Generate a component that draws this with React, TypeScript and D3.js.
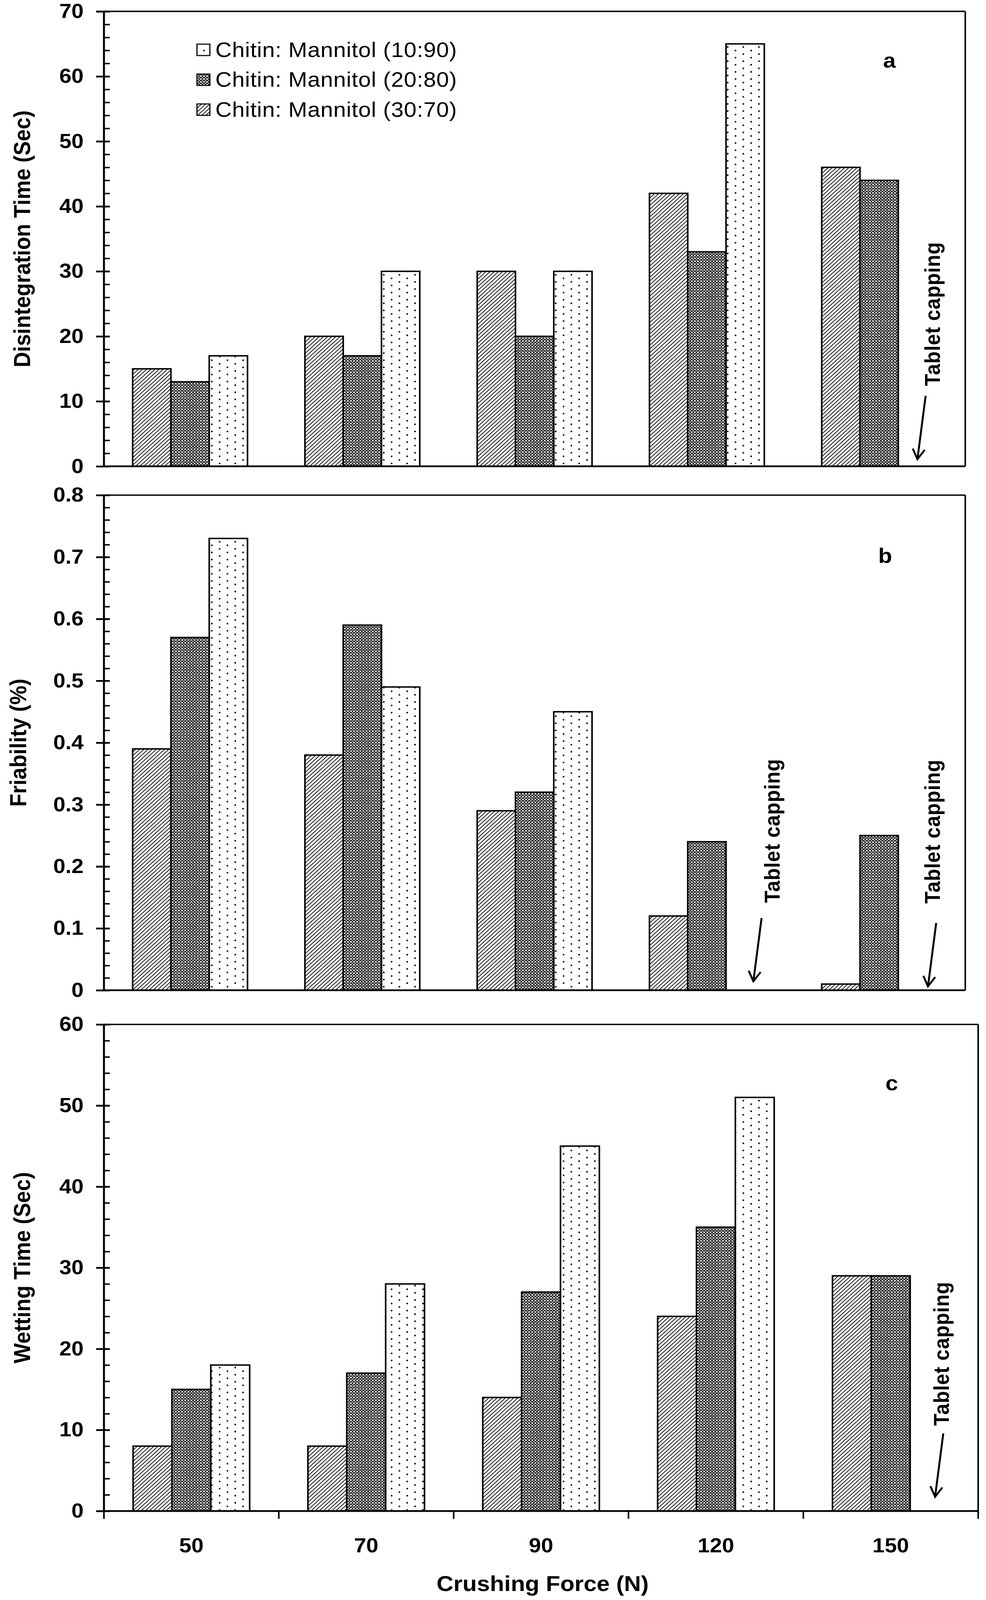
import { useRef, useEffect } from "react";
import * as d3 from "d3";

// Crushing force categories and the three chitin:mannitol ratios (bar order inside a group)
const CATEGORIES = ["50", "70", "90", "120", "150"];
const SERIES = ["30:70", "20:80", "10:90"];
const LEGEND_ORDER = ["10:90", "20:80", "30:70"];

// a — disintegration time (s); null = tablet capping
const DISINT_30_70 = [15, 20, 30, 42, 46];
const DISINT_20_80 = [13, 17, 20, 33, 44];
const DISINT_10_90 = [17, 30, 30, 65, null];

// b — friability (%)
const FRIAB_30_70 = [0.39, 0.38, 0.29, 0.12, 0.01];
const FRIAB_20_80 = [0.57, 0.59, 0.32, 0.24, 0.25];
const FRIAB_10_90 = [0.73, 0.49, 0.45, null, null];

// c — wetting time (s)
const WET_30_70 = [8, 8, 14, 24, 29];
const WET_20_80 = [15, 17, 27, 35, 29];
const WET_10_90 = [18, 28, 45, 51, null];

// tick values
const DISINT_TICKS = [0, 10, 20, 30, 40, 50, 60, 70];
const FRIAB_TICKS = [0, 0.1, 0.2, 0.3, 0.4, 0.5, 0.6, 0.7, 0.8];
const WET_TICKS = [0, 10, 20, 30, 40, 50, 60];

const W = 2523;
const H = 4495;
const FONT = "'Liberation Sans', Arial, sans-serif";
const FILL: Record<string, string> = {
  "30:70": "url(#pat-hatch)",
  "20:80": "url(#pat-check)",
  "10:90": "url(#pat-dots)",
};

type Capping = { cat: string; dx: number; dy: number; tx: number; ty: number };
type Panel = {
  tag: string;
  top: number;
  bottom: number;
  left: number;
  right: number;
  ticks: number[];
  minor: number;
  fmt: (d: number) => string;
  title: string;
  titleX: number;
  tagPos: [number, number];
  values: Record<string, (number | null)[]>;
  xAxis: boolean;
  legend: boolean;
  capping: Capping[];
};

const PANELS: Panel[] = [
  {
    tag: "a", top: 32, bottom: 1310, left: 266, right: 2470,
    ticks: DISINT_TICKS, minor: 2, fmt: (d) => String(d),
    title: "Disintegration Time (Sec)", titleX: 56, tagPos: [2276, 170],
    values: { "30:70": DISINT_30_70, "20:80": DISINT_20_80, "10:90": DISINT_10_90 },
    xAxis: false, legend: true,
    capping: [{ cat: "150", dx: 0, dy: -20, tx: 38, ty: -408 }],
  },
  {
    tag: "b", top: 1391, bottom: 2782, left: 266, right: 2470,
    ticks: FRIAB_TICKS, minor: 0.02, fmt: (d) => (d === 0 ? "0" : d.toFixed(1)),
    title: "Friability (%)", titleX: 46, tagPos: [2265, 1562],
    values: { "30:70": FRIAB_30_70, "20:80": FRIAB_20_80, "10:90": FRIAB_10_90 },
    xAxis: false, legend: false,
    capping: [
      { cat: "120", dx: 21, dy: -25, tx: 48, ty: -423 },
      { cat: "150", dx: 27, dy: -11, tx: 11, ty: -435 },
    ],
  },
  {
    tag: "c", top: 2878, bottom: 4245, left: 266, right: 2503,
    ticks: WET_TICKS, minor: 2, fmt: (d) => String(d),
    title: "Wetting Time (Sec)", titleX: 56, tagPos: [2282, 3043],
    values: { "30:70": WET_30_70, "20:80": WET_20_80, "10:90": WET_10_90 },
    xAxis: true, legend: false,
    capping: [{ cat: "150", dx: 14, dy: -40, tx: 16, ty: -402 }],
  },
];

export default function App() {
  const svgRef = useRef<SVGSVGElement>(null);

  useEffect(() => {
    document.body.style.margin = "0";
    document.body.style.overflow = "hidden";
    if (!svgRef.current) return;
    const svg = d3.select(svgRef.current);
    svg.selectAll("*").remove();

    // Patterns
    const defs = svg.append("defs");
    const dots = defs.append("pattern").attr("id", "pat-dots")
      .attr("patternUnits", "userSpaceOnUse").attr("width", 40).attr("height", 20);
    dots.append("rect").attr("width", 40).attr("height", 20).attr("fill", "#fff");
    dots.append("rect").attr("x", 0).attr("y", 0).attr("width", 4).attr("height", 4).attr("fill", "#000");
    dots.append("rect").attr("x", 20).attr("y", 10).attr("width", 4).attr("height", 4).attr("fill", "#000");

    const check = defs.append("pattern").attr("id", "pat-check")
      .attr("patternUnits", "userSpaceOnUse").attr("width", 8).attr("height", 8);
    check.append("rect").attr("width", 8).attr("height", 8).attr("fill", "#fff");
    check.append("rect").attr("x", 0).attr("y", 0).attr("width", 4).attr("height", 4).attr("fill", "#000");
    check.append("rect").attr("x", 4).attr("y", 4).attr("width", 4).attr("height", 4).attr("fill", "#000");
    check.append("rect").attr("x", 5).attr("y", 1).attr("width", 2).attr("height", 2).attr("fill", "#000");

    const hatch = defs.append("pattern").attr("id", "pat-hatch")
      .attr("patternUnits", "userSpaceOnUse").attr("width", 7.5).attr("height", 7.5)
      .attr("patternTransform", "rotate(45)");
    hatch.append("rect").attr("width", 7.5).attr("height", 7.5).attr("fill", "#fff");
    hatch.append("line").attr("x1", 1.5).attr("y1", 0).attr("x2", 1.5).attr("y2", 7.5)
      .attr("stroke", "#000").attr("stroke-width", 2);

    svg.append("rect").attr("width", W).attr("height", H).attr("fill", "#fff");

    PANELS.forEach((p) => {
      const g = svg.append("g");
      const yMax = p.ticks[p.ticks.length - 1];
      const y = d3.scaleLinear().domain([0, yMax]).range([p.bottom, p.top]);
      const cat = d3.scaleBand().domain(CATEGORIES).range([p.left, p.right]).padding(0);
      const inner = d3.scaleBand().domain(SERIES).range([0, cat.bandwidth()])
        .paddingInner(0).paddingOuter(0.75);

      // Bars
      CATEGORIES.forEach((c, i) => {
        SERIES.forEach((s) => {
          const v = p.values[s][i];
          if (v == null) return;
          g.append("rect")
            .attr("x", cat(c)! + inner(s)!).attr("y", y(v))
            .attr("width", inner.bandwidth()).attr("height", y(0) - y(v))
            .attr("fill", FILL[s]).attr("stroke", "#000").attr("stroke-width", 4);
        });
      });

      // Frame
      g.append("line").attr("x1", p.left).attr("x2", p.right).attr("y1", p.top).attr("y2", p.top)
        .attr("stroke", "#000").attr("stroke-width", 4);
      g.append("line").attr("x1", p.right).attr("x2", p.right).attr("y1", p.top).attr("y2", p.bottom)
        .attr("stroke", "#000").attr("stroke-width", 4);
      g.append("line").attr("x1", p.left).attr("x2", p.right).attr("y1", p.bottom).attr("y2", p.bottom)
        .attr("stroke", "#000").attr("stroke-width", 5);

      // Minor ticks (inside)
      const ratio = Math.round((p.ticks[1] - p.ticks[0]) / p.minor);
      const nMinor = Math.round(yMax / p.minor);
      const minors = d3.range(nMinor + 1).filter((i) => i % ratio !== 0).map((i) => i * p.minor);
      const gm = g.append("g").attr("transform", `translate(${p.left},0)`)
        .call(d3.axisLeft(y).tickValues(minors).tickSize(-15).tickFormat(() => ""));
      gm.select(".domain").remove();
      gm.selectAll(".tick line").attr("stroke", "#000").attr("stroke-width", 4);

      // Major ticks + labels
      const ga = g.append("g").attr("transform", `translate(${p.left},0)`)
        .call(d3.axisLeft(y).tickValues(p.ticks).tickSize(20).tickPadding(32).tickFormat((d) => p.fmt(+d)));
      ga.select(".domain").remove();
      ga.selectAll(".tick line").attr("x1", 15).attr("x2", -20).attr("stroke", "#000").attr("stroke-width", 5);
      ga.selectAll(".tick text").attr("font-family", FONT).attr("font-size", 56)
        .attr("font-weight", "bold").attr("fill", "#000");

      // Y axis line
      g.append("line").attr("x1", p.left).attr("x2", p.left).attr("y1", p.top).attr("y2", p.bottom)
        .attr("stroke", "#000").attr("stroke-width", 5);

      // Y title
      const ty = (p.top + p.bottom) / 2;
      g.append("text")
        .attr("transform", `translate(${p.titleX},${ty}) rotate(-90)`)
        .attr("text-anchor", "middle").attr("dominant-baseline", "central")
        .attr("font-family", FONT).attr("font-size", 60).attr("font-weight", "bold")
        .text(p.title);

      // Panel tag
      g.append("text").attr("x", p.tagPos[0]).attr("y", p.tagPos[1])
        .attr("text-anchor", "middle").attr("dominant-baseline", "central")
        .attr("font-family", FONT).attr("font-size", 58).attr("font-weight", "bold")
        .text(p.tag);

      // Tablet capping annotations at the missing 10:90 bar
      p.capping.forEach((a) => {
        const tipX = cat(a.cat)! + inner("10:90")! + inner.bandwidth() / 2 + a.dx;
        const tipY = p.bottom + a.dy;
        const tailX = tipX + 21;
        const tailY = tipY - 178;
        g.append("line").attr("x1", tailX).attr("y1", tailY).attr("x2", tipX).attr("y2", tipY)
          .attr("stroke", "#000").attr("stroke-width", 5);
        const ang = Math.atan2(tipY - tailY, tipX - tailX);
        const len = 32;
        const head = [ang + Math.PI - 0.5, ang + Math.PI + 0.5].map((t) => [tipX + len * Math.cos(t), tipY + len * Math.sin(t)]);
        g.append("path")
          .attr("d", `M${head[0][0]},${head[0][1]} L${tipX},${tipY} L${head[1][0]},${head[1][1]}`)
          .attr("fill", "none").attr("stroke", "#000").attr("stroke-width", 5)
          .attr("stroke-linejoin", "miter");
        g.append("text")
          .attr("transform", `translate(${tipX + a.tx},${tipY + a.ty}) rotate(-90)`)
          .attr("text-anchor", "middle").attr("dominant-baseline", "central")
          .attr("font-family", FONT).attr("font-size", 56).attr("font-weight", "bold")
          .attr("letter-spacing", 1)
          .text("Tablet capping");
      });

      // X axis (bottom panel only)
      if (p.xAxis) {
        const bounds = [...CATEGORIES.map((c) => cat(c)!), cat.range()[1]];
        bounds.forEach((bx) => {
          g.append("line").attr("x1", bx).attr("x2", bx).attr("y1", p.bottom).attr("y2", p.bottom + 22)
            .attr("stroke", "#000").attr("stroke-width", 4);
        });
        const gx = g.append("g").attr("transform", `translate(0,${p.bottom})`)
          .call(d3.axisBottom(cat).tickSize(0).tickPadding(76));
        gx.select(".domain").remove();
        gx.selectAll(".tick text").attr("font-family", FONT).attr("font-size", 56)
          .attr("font-weight", "bold").attr("fill", "#000");
        g.append("text").attr("x", (p.left + p.right) / 2 + 4).attr("y", 4449)
          .attr("text-anchor", "middle").attr("dominant-baseline", "central")
          .attr("font-family", FONT).attr("font-size", 60).attr("font-weight", "bold")
          .text("Crushing Force (N)");
      }

      // Legend
      if (p.legend) {
        const lx = 504;
        const ly = 140;
        LEGEND_ORDER.forEach((s, i) => {
          const cy = ly + i * 84;
          g.append("rect").attr("x", lx).attr("y", cy - 16).attr("width", 33).attr("height", 32)
            .attr("fill", FILL[s]).attr("stroke", "#000").attr("stroke-width", 3);
          g.append("text").attr("x", lx + 47).attr("y", cy)
            .attr("dominant-baseline", "central")
            .attr("font-family", FONT).attr("font-size", 58).attr("letter-spacing", 0.8)
            .text(`Chitin: Mannitol (${s})`);
        });
      }
    });
  }, []);

  // Fill the viewport so that the whole figure is always in the photograph
  return (
    <svg
      ref={svgRef}
      viewBox={`0 0 ${W} ${H}`}
      preserveAspectRatio="none"
      style={{ display: "block", width: "100vw", height: "100vh", background: "#fff" }}
    />
  );
}
